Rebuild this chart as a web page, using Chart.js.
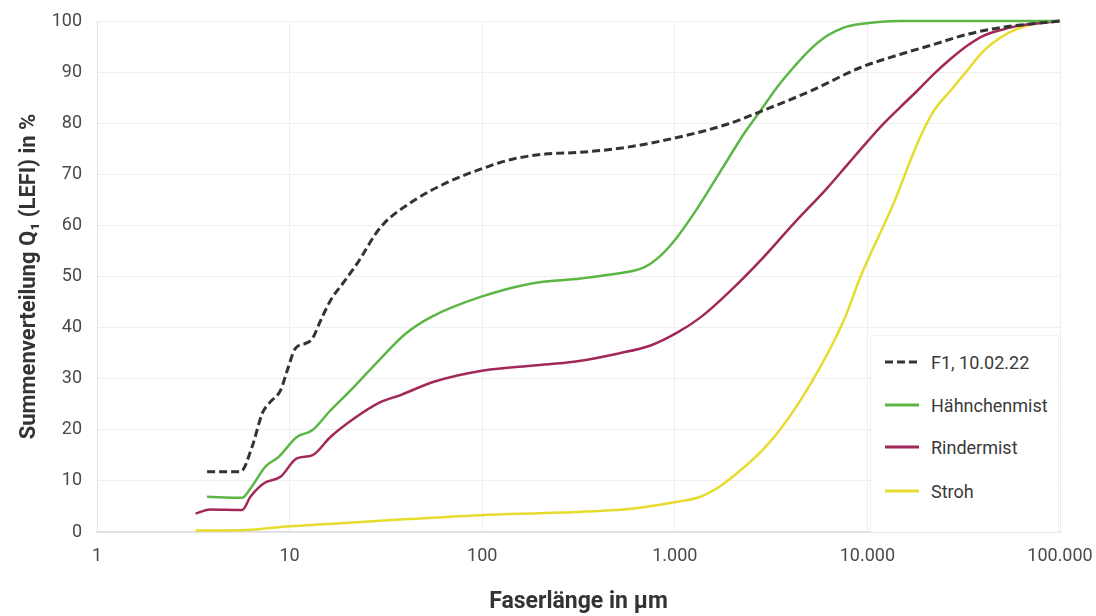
<!DOCTYPE html>
<html>
<head>
<meta charset="utf-8">
<script src="https://cdn.jsdelivr.net/npm/chart.js@4/dist/chart.umd.min.js"></script>
<style>
  html, body { margin: 0; padding: 0; background: #fff; }
  #wrap { position: relative; width: 1096px; height: 616px; }
  #legend {
    position: absolute; left: 870px; top: 335px; width: 187px; height: 196px;
    background: #fff; border: 1px solid #f2f2f2; border-bottom: none;
    font-family: 'Roboto', sans-serif;
    font-size: 18px; color: #3a3a3a;
  }
  .item { position: absolute; left: 14px; height: 24px; display: flex; align-items: center; }
  .item svg { margin-right: 12px; }
</style>
</head>
<body>
<div id="wrap">
  <canvas id="chart" width="1096" height="616"></canvas>
  <div id="legend"></div>
</div>
<script>
// Summenverteilung der Faserlänge (x: µm, y: %)

const xTickValues = [1, 10, 100, 1000, 10000, 100000];
const xTickLabels = ['1', '10', '100', '1.000', '10.000', '100.000'];

const seriesNames = ['F1, 10.02.22', 'Hähnchenmist', 'Rindermist', 'Stroh'];

const f1X = [3.73, 5.56, 6.39, 7.21, 7.96, 8.97, 9.72, 10.7, 12.1, 13.1, 14.5, 16.3, 19.1, 22.4, 29.6, 44, 65.8, 98, 145, 217, 324, 566, 1028, 1871, 3017, 5070, 9220, 14870, 22000, 33000, 49100, 100000];
const f1Y = [11.8, 11.8, 16.7, 23.2, 25.5, 27.7, 31.6, 35.9, 36.9, 37.8, 41.4, 45.3, 48.9, 52.5, 59.6, 64.8, 68.4, 71.0, 73.0, 74.0, 74.3, 75.3, 77.2, 79.8, 82.8, 86.3, 90.9, 93.5, 95.4, 97.4, 98.7, 100];

const haehnX = [3.73, 5.67, 6.26, 7.49, 8.78, 10.9, 13.1, 16.3, 21.6, 29.6, 40, 54.5, 98, 178, 324, 463, 692, 844, 1028, 1250, 1530, 1870, 2280, 2780, 3390, 4130, 5070, 6180, 7540, 9220, 14870, 100000];
const haehnY = [6.9, 6.7, 8.5, 12.8, 14.7, 18.6, 19.9, 23.8, 28.4, 33.9, 38.8, 42.1, 46.0, 48.6, 49.6, 50.4, 51.8, 54.1, 57.7, 62.2, 67.4, 72.7, 77.9, 82.4, 87.0, 90.9, 94.5, 97.1, 98.7, 99.4, 100, 100];

const rindX = [3.25, 3.88, 5.67, 6.26, 7.33, 8.97, 10.9, 13.1, 16.3, 21.6, 29.6, 37.7, 56.1, 101.5, 186, 299, 503, 749, 1028, 1360, 1871, 2780, 4130, 6180, 8000, 10000, 12200, 14870, 18100, 22100, 26900, 32800, 40000, 48800, 59500, 100000];
const rindY = [3.6, 4.4, 4.3, 6.9, 9.5, 10.8, 14.4, 15.0, 18.6, 22.2, 25.4, 26.8, 29.4, 31.6, 32.6, 33.3, 34.9, 36.5, 39.0, 42.0, 46.6, 53.1, 60.3, 67.3, 72.2, 76.4, 80.0, 83.2, 86.3, 89.6, 92.5, 95.1, 97.1, 98.2, 99.0, 100];

const strohX = [3.25, 6.0, 9.0, 13.4, 29.6, 98, 255, 613, 1028, 1360, 1727, 2070, 2780, 3450, 5070, 7540, 9220, 13850, 18100, 22100, 26900, 32800, 40000, 48800, 59500, 72600, 100000];
const strohY = [0.3, 0.4, 1.0, 1.4, 2.2, 3.3, 3.8, 4.6, 5.9, 6.9, 9.0, 11.3, 15.6, 19.6, 29.0, 41.4, 50.0, 64.8, 75.9, 82.4, 86.3, 90.2, 94.1, 96.7, 98.4, 99.4, 100];

const colors = ['#333333', '#5cb646', '#a3285a', '#e6dc2e'];
const dashes = [[8, 4], [], [], []];

const FONT = "'Roboto', sans-serif";

const toPoints = (xs, ys) => xs.map((x, i) => ({ x: x, y: ys[i] }));
const seriesData = [
    toPoints(f1X, f1Y),
    toPoints(haehnX, haehnY),
    toPoints(rindX, rindY),
    toPoints(strohX, strohY)
];

const datasets = seriesNames.map((name, i) => ({
    label: name,
    data: seriesData[i],
    borderColor: colors[i],
    backgroundColor: colors[i],
    borderWidth: i === 0 ? 3 : 2.5,
    borderDash: dashes[i],
    pointRadius: 0,
    cubicInterpolationMode: 'monotone',
    clip: 4
}));

const ctx = document.getElementById('chart').getContext('2d');
const chart = new Chart(ctx, {
    type: 'line',
    data: { datasets: datasets },
    options: {
        responsive: false,
        animation: false,
        layout: { padding: { top: 21, right: 36, left: 0, bottom: 0 } },
        plugins: {
            legend: { display: false },
            tooltip: { enabled: false }
        },
        scales: {
            x: {
                type: 'logarithmic',
                min: 1,
                max: 100000,
                afterBuildTicks: scale => {
                    scale.ticks = xTickValues.map(v => ({ value: v }));
                },
                afterFit: scale => {
                    scale.height = 84;
                    scale.paddingLeft = 0;
                    scale.paddingRight = 0;
                },
                ticks: {
                    padding: 14,
                    color: '#4a4a4a',
                    font: { family: FONT, size: 18 },
                    maxRotation: 0,
                    autoSkip: false,
                    callback: (value) => {
                        const i = xTickValues.indexOf(value);
                        return i >= 0 ? xTickLabels[i] : '';
                    }
                },
                grid: { color: '#efefef', drawTicks: false },
                border: { color: '#dcdcdc', width: 1.5 },
                title: {
                    display: true,
                    text: 'Faserlänge in µm',
                    color: '#333',
                    font: { family: FONT, size: 23, weight: 'bold' },
                    padding: { top: -2, bottom: 0 }
                }
            },
            y: {
                min: 0,
                max: 100,
                afterFit: scale => {
                    scale.width = 97;
                    scale.paddingTop = 0;
                    scale.paddingBottom = 0;
                },
                ticks: {
                    stepSize: 10,
                    padding: 15,
                    color: '#4a4a4a',
                    font: { family: FONT, size: 18 }
                },
                grid: { color: '#efefef', drawTicks: false },
                border: { color: '#e4e4e4' },
                title: {
                    display: true,
                    text: 'Summenverteilung Q\u2081 (LEFI) in %',
                    color: '#333',
                    font: { family: FONT, size: 22, weight: 'bold' },
                    padding: { top: 16, bottom: 0 }
                }
            }
        }
    }
});

// legend box inside the plot, built from the datasets
const legendEl = document.getElementById('legend');
const rowTops = [14, 57, 99, 143];
chart.data.datasets.forEach((ds, i) => {
    const item = document.createElement('div');
    item.className = 'item';
    item.style.top = rowTops[i] + 'px';
    const dash = ds.borderDash.length ? ' stroke-dasharray="8 4"' : '';
    item.innerHTML =
        '<svg width="34" height="6"><line x1="0" y1="3" x2="34" y2="3" stroke="' + ds.borderColor +
        '" stroke-width="3"' + dash + '/></svg><span>' + ds.label + '</span>';
    legendEl.appendChild(item);
});
</script>
</body>
</html>
